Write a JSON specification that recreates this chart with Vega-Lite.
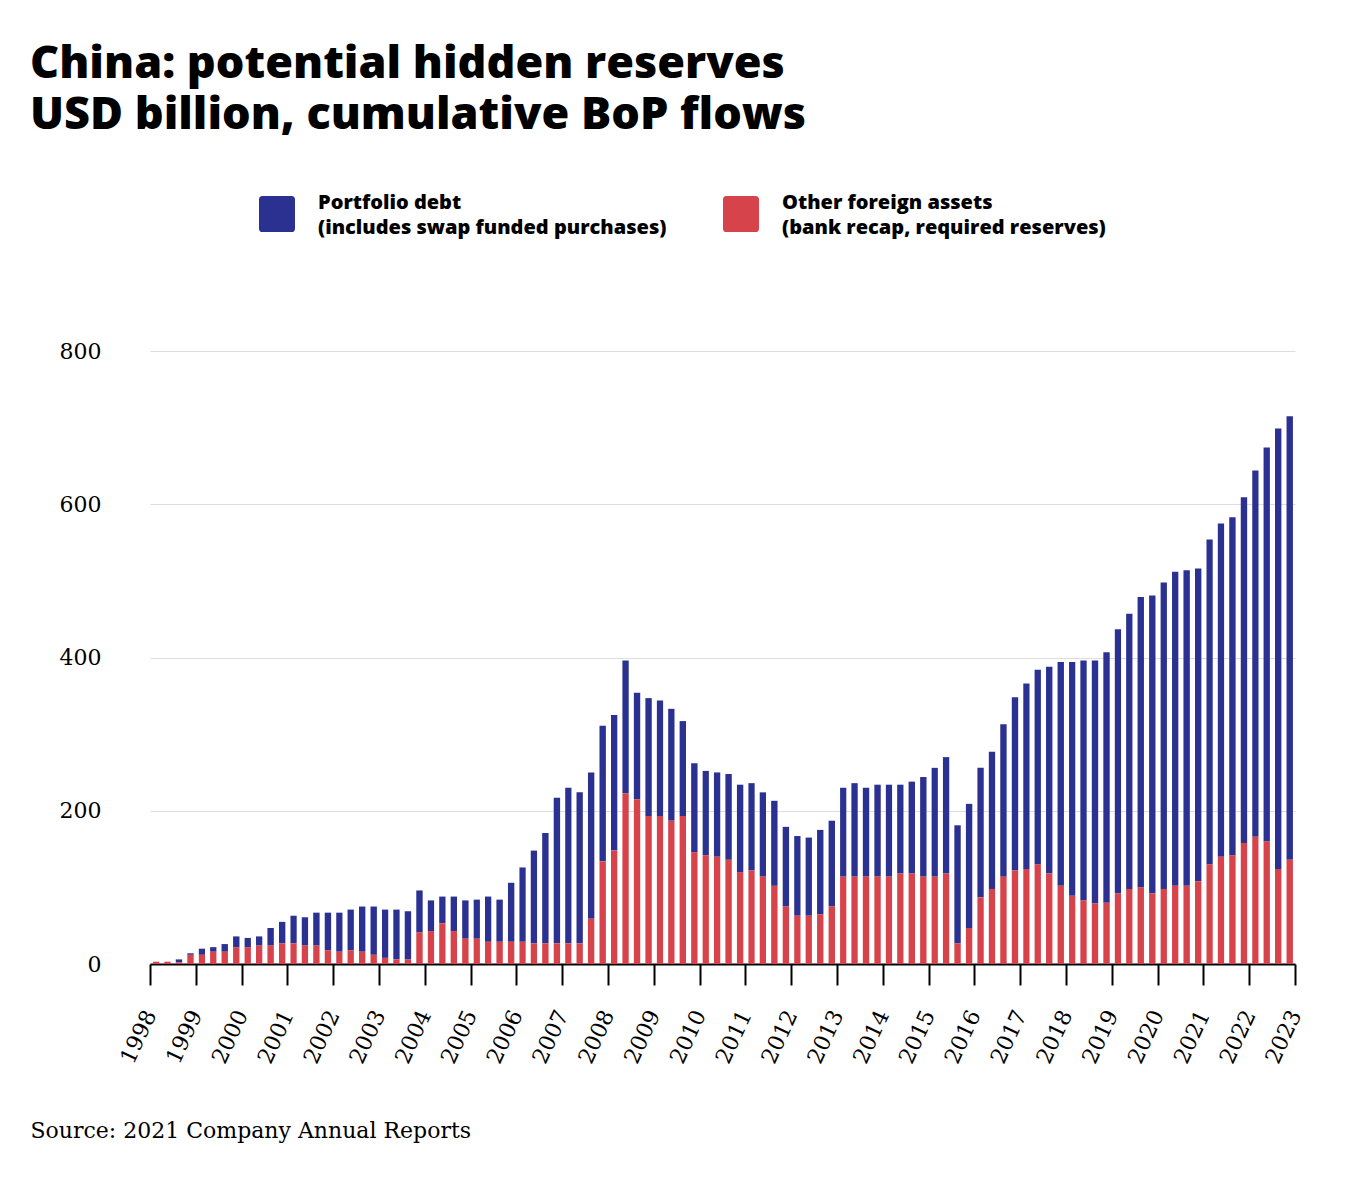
{
  "$schema": "https://vega.github.io/schema/vega-lite/v6.json",
  "autosize": {"type": "none"},
  "width": 1145,
  "height": 613,
  "padding": {"left": 150, "top": 351, "right": 63, "bottom": 218},
  "background": "white",
  "title": {
    "text": ["China: potential hidden reserves", "USD billion, cumulative BoP flows"],
    "anchor": "start",
    "frame": "group",
    "dx": -120,
    "offset": 58,
    "font": "Open Sans",
    "fontSize": 45,
    "fontWeight": 800,
    "color": "#000000",
    "lineHeight": 51
  },
  "config": {
    "view": {"stroke": null},
    "axis": {"labelColor": "#000000", "titleColor": "#000000"}
  },
  "data": {
    "values": [
      {"quarter": "1998-01-01", "other": 3, "debt": 0},
      {"quarter": "1998-04-01", "other": 3, "debt": 0},
      {"quarter": "1998-07-01", "other": 2, "debt": 4},
      {"quarter": "1998-10-01", "other": 12, "debt": 2},
      {"quarter": "1999-01-01", "other": 12, "debt": 8},
      {"quarter": "1999-04-01", "other": 16, "debt": 6},
      {"quarter": "1999-07-01", "other": 16, "debt": 10},
      {"quarter": "1999-10-01", "other": 22, "debt": 14},
      {"quarter": "2000-01-01", "other": 22, "debt": 12},
      {"quarter": "2000-04-01", "other": 24, "debt": 12},
      {"quarter": "2000-07-01", "other": 24, "debt": 23},
      {"quarter": "2000-10-01", "other": 27, "debt": 28},
      {"quarter": "2001-01-01", "other": 27, "debt": 36},
      {"quarter": "2001-04-01", "other": 24, "debt": 37},
      {"quarter": "2001-07-01", "other": 24, "debt": 43},
      {"quarter": "2001-10-01", "other": 18, "debt": 49},
      {"quarter": "2002-01-01", "other": 16, "debt": 51},
      {"quarter": "2002-04-01", "other": 18, "debt": 53},
      {"quarter": "2002-07-01", "other": 16, "debt": 59},
      {"quarter": "2002-10-01", "other": 12, "debt": 63},
      {"quarter": "2003-01-01", "other": 8, "debt": 63},
      {"quarter": "2003-04-01", "other": 6, "debt": 65},
      {"quarter": "2003-07-01", "other": 6, "debt": 63},
      {"quarter": "2003-10-01", "other": 41, "debt": 55},
      {"quarter": "2004-01-01", "other": 43, "debt": 40},
      {"quarter": "2004-04-01", "other": 53, "debt": 35},
      {"quarter": "2004-07-01", "other": 43, "debt": 45},
      {"quarter": "2004-10-01", "other": 33, "debt": 50},
      {"quarter": "2005-01-01", "other": 33, "debt": 51},
      {"quarter": "2005-04-01", "other": 29, "debt": 59},
      {"quarter": "2005-07-01", "other": 29, "debt": 55},
      {"quarter": "2005-10-01", "other": 29, "debt": 77},
      {"quarter": "2006-01-01", "other": 29, "debt": 97},
      {"quarter": "2006-04-01", "other": 27, "debt": 121},
      {"quarter": "2006-07-01", "other": 27, "debt": 144},
      {"quarter": "2006-10-01", "other": 27, "debt": 190},
      {"quarter": "2007-01-01", "other": 27, "debt": 203},
      {"quarter": "2007-04-01", "other": 27, "debt": 197},
      {"quarter": "2007-07-01", "other": 59, "debt": 191},
      {"quarter": "2007-10-01", "other": 134, "debt": 177},
      {"quarter": "2008-01-01", "other": 148, "debt": 177},
      {"quarter": "2008-04-01", "other": 223, "debt": 173},
      {"quarter": "2008-07-01", "other": 215, "debt": 139},
      {"quarter": "2008-10-01", "other": 193, "debt": 154},
      {"quarter": "2009-01-01", "other": 193, "debt": 151},
      {"quarter": "2009-04-01", "other": 187, "debt": 146},
      {"quarter": "2009-07-01", "other": 193, "debt": 124},
      {"quarter": "2009-10-01", "other": 146, "debt": 116},
      {"quarter": "2010-01-01", "other": 142, "debt": 110},
      {"quarter": "2010-04-01", "other": 140, "debt": 110},
      {"quarter": "2010-07-01", "other": 136, "debt": 112},
      {"quarter": "2010-10-01", "other": 120, "debt": 114},
      {"quarter": "2011-01-01", "other": 122, "debt": 114},
      {"quarter": "2011-04-01", "other": 114, "debt": 110},
      {"quarter": "2011-07-01", "other": 102, "debt": 111},
      {"quarter": "2011-10-01", "other": 75, "debt": 104},
      {"quarter": "2012-01-01", "other": 63, "debt": 104},
      {"quarter": "2012-04-01", "other": 63, "debt": 102},
      {"quarter": "2012-07-01", "other": 65, "debt": 110},
      {"quarter": "2012-10-01", "other": 75, "debt": 112},
      {"quarter": "2013-01-01", "other": 114, "debt": 116},
      {"quarter": "2013-04-01", "other": 114, "debt": 122},
      {"quarter": "2013-07-01", "other": 114, "debt": 116},
      {"quarter": "2013-10-01", "other": 114, "debt": 120},
      {"quarter": "2014-01-01", "other": 114, "debt": 120},
      {"quarter": "2014-04-01", "other": 118, "debt": 116},
      {"quarter": "2014-07-01", "other": 118, "debt": 120},
      {"quarter": "2014-10-01", "other": 114, "debt": 130},
      {"quarter": "2015-01-01", "other": 114, "debt": 142},
      {"quarter": "2015-04-01", "other": 118, "debt": 152},
      {"quarter": "2015-07-01", "other": 27, "debt": 154},
      {"quarter": "2015-10-01", "other": 47, "debt": 162},
      {"quarter": "2016-01-01", "other": 87, "debt": 169},
      {"quarter": "2016-04-01", "other": 98, "debt": 179},
      {"quarter": "2016-07-01", "other": 114, "debt": 199},
      {"quarter": "2016-10-01", "other": 122, "debt": 226},
      {"quarter": "2017-01-01", "other": 124, "debt": 242},
      {"quarter": "2017-04-01", "other": 130, "debt": 254},
      {"quarter": "2017-07-01", "other": 118, "debt": 270},
      {"quarter": "2017-10-01", "other": 102, "debt": 292},
      {"quarter": "2018-01-01", "other": 89, "debt": 305},
      {"quarter": "2018-04-01", "other": 83, "debt": 313},
      {"quarter": "2018-07-01", "other": 79, "debt": 317},
      {"quarter": "2018-10-01", "other": 80, "debt": 327},
      {"quarter": "2019-01-01", "other": 92, "debt": 345},
      {"quarter": "2019-04-01", "other": 98, "debt": 359},
      {"quarter": "2019-07-01", "other": 100, "debt": 379},
      {"quarter": "2019-10-01", "other": 92, "debt": 389},
      {"quarter": "2020-01-01", "other": 98, "debt": 400},
      {"quarter": "2020-04-01", "other": 102, "debt": 410},
      {"quarter": "2020-07-01", "other": 102, "debt": 412},
      {"quarter": "2020-10-01", "other": 108, "debt": 408},
      {"quarter": "2021-01-01", "other": 130, "debt": 424},
      {"quarter": "2021-04-01", "other": 140, "debt": 435},
      {"quarter": "2021-07-01", "other": 142, "debt": 441},
      {"quarter": "2021-10-01", "other": 158, "debt": 451},
      {"quarter": "2022-01-01", "other": 166, "debt": 478},
      {"quarter": "2022-04-01", "other": 160, "debt": 514},
      {"quarter": "2022-07-01", "other": 124, "debt": 575},
      {"quarter": "2022-10-01", "other": 136, "debt": 579}
    ]
  },
  "transform": [{"fold": ["debt", "other"], "as": ["series", "value"]}],
  "mark": {"type": "bar", "width": {"band": 0.64}},
  "encoding": {
    "x": {
      "field": "quarter",
      "type": "temporal",
      "timeUnit": "utcyearquarter",
      "scale": {"type": "utc", "domain": [{"year": 1998, "utc": true}, {"year": 2023, "utc": true}]},
      "axis": {
        "title": "Source: 2021 Company Annual Reports",
        "titleFont": "DejaVu Serif",
        "titleFontSize": 22,
        "titleFontWeight": "normal",
        "titleAnchor": "start",
        "titleAlign": "left",
        "titleBaseline": "alphabetic",
        "titleX": -120,
        "titleY": 173,
        "format": "%Y",
        "tickCount": {"interval": "year", "step": 1},
        "grid": false,
        "domainColor": "#000000",
        "domainWidth": 2,
        "tickColor": "#000000",
        "tickWidth": 2,
        "tickSize": 21,
        "labelFont": "DejaVu Serif",
        "labelFontSize": 22,
        "labelAngle": -65,
        "labelAlign": "right",
        "labelBaseline": "middle",
        "labelPadding": 26,
        "labelOverlap": false,
        "labelFlush": false
      }
    },
    "y": {
      "field": "value",
      "type": "quantitative",
      "stack": "zero",
      "scale": {"domain": [0, 800], "nice": false},
      "axis": {
        "title": null,
        "values": [0, 200, 400, 600, 800],
        "domain": false,
        "ticks": false,
        "labelPadding": 49,
        "labelFont": "DejaVu Serif",
        "labelFontSize": 22,
        "gridColor": "#dddddd",
        "gridWidth": 1
      }
    },
    "color": {
      "field": "series",
      "type": "nominal",
      "scale": {"domain": ["debt", "other"], "range": ["#2b3191", "#d7434b"]},
      "legend": {
        "orient": "none",
        "legendX": 109,
        "legendY": -155,
        "direction": "horizontal",
        "title": null,
        "symbolType": "M-0.8,-1H0.8Q1,-1 1,-0.8V0.8Q1,1 0.8,1H-0.8Q-1,1 -1,0.8V-0.8Q-1,-1 -0.8,-1Z",
        "symbolSize": 1296,
        "symbolStrokeWidth": 0,
        "symbolOpacity": 1,
        "labelFont": "Open Sans",
        "labelFontSize": 20,
        "labelFontWeight": 800,
        "labelColor": "#000000",
        "labelOffset": 23,
        "labelLimit": 1000,
        "columnPadding": 56,
        "labelExpr": "datum.value == 'debt' ? ['Portfolio debt', '(includes swap funded purchases)'] : ['Other foreign assets', '(bank recap, required reserves)']",
        "encode": {"labels": {"update": {"lineHeight": {"value": 25}, "dy": {"value": -11}}}}
      }
    },
    "order": {"field": "series", "sort": "descending"}
  }
}
